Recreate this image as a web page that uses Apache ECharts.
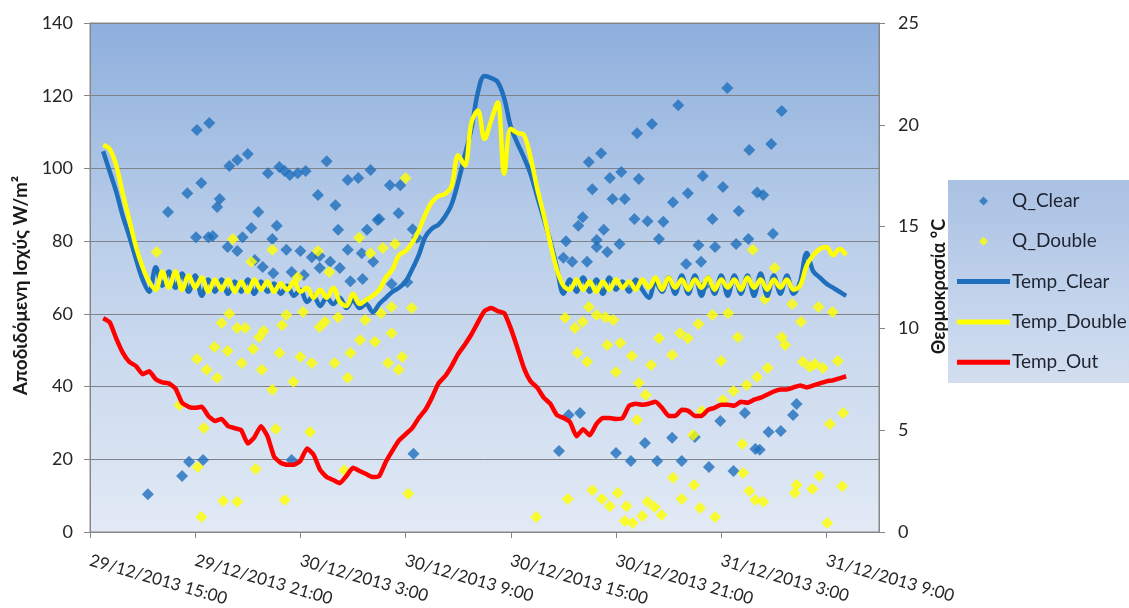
<!DOCTYPE html>
<html>
<head>
<meta charset="utf-8">
<script src="https://cdn.jsdelivr.net/npm/echarts@6/dist/echarts.min.js"></script>
<style>
  html, body { margin: 0; padding: 0; background: #ffffff; }
  #chart { width: 1129px; height: 608px; }
</style>
</head>
<body>
<div id="chart"></div>
<script>
// ---- x axis: hours since 29/12/2013 15:00 ----
const xTickHours = [0, 6, 12, 18, 24, 30, 36, 42];
const xTickLabels = ['29/12/2013 15:00', '29/12/2013 21:00', '30/12/2013 3:00', '30/12/2013 9:00',
                     '30/12/2013 15:00', '30/12/2013 21:00', '31/12/2013 3:00', '31/12/2013 9:00'];
const xMinHours = 0, xMaxHours = 45;

// ---- line series sampling (hours since 29/12/2013 15:00) ----
const lineStartHour = 0.75;
const lineStepHours = 0.375;

// Temp_Clear (°C)
const tempClear = [
  18.7, 17.7, 16.7, 15.5, 14.5, 13.4, 12.4, 11.8, 13.0, 12.1,
  12.8, 12.0, 12.7, 11.8, 12.6, 11.6, 12.4, 11.8, 12.4, 11.7,
  12.3, 11.8, 12.4, 11.7, 12.3, 11.8, 12.2, 11.7, 12.1, 11.6,
  11.9, 11.3, 11.6, 11.1, 11.5, 11.2, 11.5, 11.0, 11.4, 11.0,
  11.2, 10.8, 11.2, 11.5, 11.8, 12.0, 12.3, 12.9, 13.6, 14.5,
  14.9, 15.1, 15.5, 16.1, 17.2, 18.5, 19.8, 21.6, 22.4, 22.3,
  22.1, 21.3, 19.9, 19.1, 18.4, 17.6, 16.5, 15.4, 14.3, 13.0,
  11.7, 12.4, 11.8, 12.5, 11.8, 12.4, 11.7, 12.5, 11.9, 12.3,
  11.8, 12.4, 11.9, 11.5, 12.3, 11.8, 12.5, 11.7, 12.6, 11.7,
  12.6, 11.6, 12.5, 11.7, 12.6, 11.6, 12.6, 11.7, 12.6, 11.6,
  12.7, 11.6, 12.6, 11.7, 12.6, 11.7, 12.3, 13.7, 12.8, 12.5,
  12.2, 12.0, 11.8, 11.6
];

// Temp_Double (°C)
const tempDouble = [
  19.0, 18.8, 18.0, 16.6, 15.3, 14.0, 13.0, 12.3, 11.9, 12.8,
  12.0, 12.8, 11.9, 12.6, 12.0, 12.5, 11.8, 12.4, 11.9, 12.4,
  11.8, 12.3, 11.8, 12.4, 11.9, 12.3, 11.8, 12.2, 11.9, 12.3,
  11.8, 12.0, 11.5, 11.9, 11.5, 12.0, 11.3, 11.1, 11.7, 11.2,
  11.4, 11.6, 11.9, 12.5, 12.9, 13.6, 13.8, 14.2, 14.8, 15.6,
  16.2, 16.5, 16.6, 17.0, 18.5, 18.0, 20.1, 20.7, 19.3, 20.2,
  21.1, 17.6, 19.8, 19.6, 19.5, 18.4, 16.9, 15.6, 14.2, 12.9,
  12.1, 11.9, 12.4, 11.9, 12.3, 11.8, 12.3, 11.9, 12.4, 12.0,
  12.3, 11.9, 12.4, 12.0, 12.5, 11.9, 12.5, 12.0, 12.4, 11.9,
  12.4, 12.0, 12.5, 11.9, 12.4, 12.0, 12.4, 11.9, 12.5, 12.0,
  12.4, 11.9, 12.4, 12.0, 12.4, 11.9, 12.1, 13.1, 13.6, 13.9,
  14.0, 13.6, 13.9, 13.6
];

// Temp_Out (°C)
const tempOut = [
  10.5, 10.3, 9.5, 8.8, 8.35, 8.15, 7.75, 7.9, 7.5, 7.35,
  7.3, 7.05, 6.35, 6.15, 6.1, 6.15, 5.7, 5.45, 5.55, 5.2,
  5.1, 5.0, 4.35, 4.65, 5.2, 4.7, 3.7, 3.4, 3.3, 3.3,
  3.5, 4.1, 3.8, 3.05, 2.7, 2.55, 2.4, 2.75, 3.15, 3.0,
  2.85, 2.7, 2.75, 3.45, 4.0, 4.5, 4.8, 5.1, 5.6, 6.0,
  6.6, 7.3, 7.65, 8.15, 8.75, 9.2, 9.7, 10.3, 10.85, 11.0,
  10.85, 10.75, 10.0, 9.05, 8.05, 7.4, 7.1, 6.6, 6.3, 5.75,
  5.6, 5.4, 4.7, 5.05, 4.75, 5.3, 5.6, 5.6, 5.55, 5.6,
  6.2, 6.3, 6.25, 6.3, 6.4, 6.1, 5.7, 5.7, 6.0, 5.95,
  5.7, 5.7, 6.0, 6.1, 6.25, 6.25, 6.2, 6.4, 6.35, 6.5,
  6.6, 6.75, 6.9, 7.0, 7.0, 7.1, 7.2, 7.1, 7.2, 7.3,
  7.4, 7.45, 7.55, 7.65
];

// Q_Clear scatter: [hours since 29/12/2013 15:00, W/m²]
const qClear = [
  [3.3,10.4],[5.25,15.4],[5.65,19.3],[6.45,19.8],[11.5,19.8],
  [4.45,88.0],[5.55,93.2],[6.1,110.6],[6.8,112.5],[6.35,96.0],[6.05,81.1],[6.75,81.1],[7.0,81.4],
  [7.4,91.6],[7.25,89.4],[7.95,100.7],[8.4,102.3],[9.0,104.0],[8.7,81.1],[9.2,83.6],[9.6,88.0],
  [7.85,78.4],[8.4,77.3],[9.4,74.8],[10.15,98.7],[10.4,80.6],[10.65,84.2],[9.85,72.9],[10.45,71.2],
  [10.8,100.4],[11.1,99.3],[11.4,98.2],[11.85,98.7],[12.3,99.3],[11.2,77.6],[12.0,77.3],[12.65,75.6],
  [13.1,75.9],[13.0,92.7],[13.5,102.0],[14.0,89.9],[14.15,83.1],[13.7,74.3],[14.7,96.8],[15.3,97.4],
  [16.0,99.6],[15.8,83.1],[14.7,77.6],[15.5,76.7],[16.4,85.8],[14.25,72.6],[17.1,95.4],[17.7,95.4],
  [17.6,87.7],[16.5,86.1],[18.4,83.3],[18.65,80.9],[16.15,74.3],[13.1,72.6],[12.2,70.7],[14.85,69.0],
  [15.55,69.6],[18.1,68.7],[17.2,68.2],[11.5,71.5],[18.45,21.5],
  [28.45,101.8],[29.15,104.2],[31.2,109.7],[32.05,112.2],[33.55,117.4],[36.35,122.1],[37.6,105.1],
  [38.85,106.7],[39.45,115.8],[38.05,93.4],[38.4,92.7],[38.95,82.0],[28.65,94.3],[29.65,97.4],[30.3,99.0],
  [31.3,97.1],[29.8,91.6],[30.5,91.6],[34.95,97.9],[36.1,94.9],[34.1,93.2],[33.25,90.7],[31.05,86.1],
  [31.8,85.5],[32.7,85.3],[35.5,86.1],[37.0,88.3],[28.1,86.6],[27.85,84.2],[29.3,83.1],[27.15,80.0],
  [28.9,80.3],[28.9,78.4],[29.5,77.0],[30.2,79.2],[32.45,80.6],[34.7,78.9],[35.65,78.4],[36.85,79.2],
  [37.55,80.6],[34.0,73.7],[34.85,74.3],[27.0,75.4],[27.5,74.3],[28.35,74.3],[31.0,68.0],[35.0,67.5],
  [40.3,35.2],[40.1,32.2],[38.7,27.5],[39.4,27.8],[38.2,22.6],[27.3,32.2],[27.95,32.7],[26.75,22.3],
  [30.0,21.7],[30.85,19.5],[31.65,24.5],[32.35,19.5],[33.2,25.9],[33.75,19.5],[34.5,26.1],[35.3,17.9],
  [35.95,30.5],[36.7,16.8],[37.35,32.7],[37.95,22.8]
];

// Q_Double scatter: [hours since 29/12/2013 15:00, W/m²]
const qDouble = [
  [3.8,77.0],[8.15,80.6],[9.2,74.3],[10.4,77.6],[13.0,77.3],[13.65,71.5],[15.35,80.9],[16.0,76.7],
  [16.7,78.1],[17.4,79.2],[18.0,97.4],[11.85,70.1],
  [7.95,60.0],[7.5,57.5],[8.4,56.1],[8.85,56.1],[9.9,55.3],[9.65,53.6],[10.95,56.9],[11.2,59.7],
  [7.1,50.9],[7.85,49.8],[9.3,50.3],[10.8,49.2],[6.1,47.6],[6.65,44.6],[7.25,42.4],[8.65,46.5],
  [9.8,44.6],[10.4,39.1],[5.1,34.9],[6.15,17.9],[6.5,28.6],[6.35,4.1],[7.6,8.5],[8.4,8.3],
  [9.45,17.3],[10.6,28.3],[11.1,8.8],[11.6,41.3],[12.0,48.1],[12.15,60.5],[12.55,27.5],[12.65,46.5],
  [13.1,56.4],[13.4,57.8],[14.15,59.1],[13.95,46.5],[14.5,17.0],[14.7,42.4],[14.85,49.2],[15.4,52.8],
  [15.7,58.3],[16.25,52.3],[17.2,61.9],[18.35,61.6],[16.6,60.2],[17.2,54.7],[17.0,46.5],[17.8,48.1],
  [17.6,44.6],[18.15,10.5],[25.45,4.1],[27.25,9.1],
  [27.1,58.9],[27.65,56.1],[28.1,57.8],[28.45,61.9],[28.9,59.7],[29.4,59.1],[29.85,58.3],[27.8,49.2],
  [28.35,46.8],[29.5,51.4],[30.25,52.0],[30.9,48.4],[30.0,44.0],[31.3,41.0],[31.7,37.7],[32.0,45.9],
  [32.45,53.3],[33.2,48.7],[33.65,54.7],[34.1,53.3],[34.7,57.2],[35.5,59.7],[36.4,60.2],[36.95,53.6],
  [36.0,47.0],[36.7,38.8],[36.1,36.3],[37.45,40.4],[34.9,33.3],[34.4,26.7],[31.2,30.8],[37.2,24.2],
  [38.05,42.6],
  [28.65,11.5],[29.2,9.1],[29.65,7.1],[30.1,10.7],[30.6,7.1],[30.5,3.0],[30.95,2.5],[31.5,4.4],
  [31.8,8.3],[32.2,6.9],[32.6,4.7],[33.25,14.9],[33.75,9.1],[34.45,12.9],[34.8,6.6],[35.65,4.1],
  [37.25,16.2],[37.6,11.3],[37.95,8.8],
  [40.05,62.7],[41.55,61.9],[42.35,60.5],[40.55,57.8],[39.45,53.6],[39.65,51.4],[40.65,46.8],[41.05,45.4],
  [41.35,46.2],[41.8,45.1],[42.65,47.0],[38.65,45.1],[42.2,29.7],[42.95,32.7],[40.2,10.7],[40.3,12.9],
  [41.2,11.8],[41.6,15.4],[42.9,12.6],[42.05,2.5],[38.4,8.3],
  [37.8,77.6],[39.05,72.6],[38.5,64.1]
];

const seriesNames = ['Q_Clear', 'Q_Double', 'Temp_Clear', 'Temp_Double', 'Temp_Out'];

function toLine(values) {
  return values.map((v, i) => [lineStartHour + i * lineStepHours, v]);
}

const FONT = 'Lato';
const LINE_ICON = 'path://M0 0H53V5H0Z';
// small diamond centred in a 53x10 legend slot (end markers keep the box width)
const DIAMOND_ICON = 'path://M0 5L0.01 5ZM53 5L52.99 5ZM26.5 0.5L31 5L26.5 9.5L22 5Z';
const chart = echarts.init(document.getElementById('chart'), null, { renderer: 'canvas' });

const option = {
  backgroundColor: '#ffffff',
  animation: false,
  textStyle: { fontFamily: FONT },
  grid: {
    left: 90, right: 250, top: 23, bottom: 76,
    outerBoundsMode: 'none',
    containLabel: false,
    show: true,
    borderColor: '#8a8a8a',
    borderWidth: 1,
    backgroundColor: new echarts.graphic.LinearGradient(0, 0, 0, 1, [
      { offset: 0, color: '#8eafdd' },
      { offset: 0.45, color: '#bdd0ea' },
      { offset: 1, color: '#e2eaf5' }
    ])
  },
  graphic: [{
    type: 'rect',
    left: 948, top: 180, z: -1,
    shape: { width: 200, height: 203 },
    style: {
      fill: new echarts.graphic.LinearGradient(0, 0, 0, 1, [
        { offset: 0, color: '#aac1e4' },
        { offset: 1, color: '#d3dff0' }
      ])
    }
  }],
  legend: {
    orient: 'vertical',
    left: 957, top: 191,
    padding: 0,
    itemWidth: 53, itemHeight: 10, itemGap: 20.3,
    symbolKeepAspect: true,
    data: [
      { name: 'Q_Clear', icon: DIAMOND_ICON },
      { name: 'Q_Double', icon: DIAMOND_ICON },
      { name: 'Temp_Clear', icon: LINE_ICON },
      { name: 'Temp_Double', icon: LINE_ICON },
      { name: 'Temp_Out', icon: LINE_ICON }
    ],
    textStyle: { fontFamily: FONT, fontSize: 19, color: '#1e2330', lineHeight: 20, padding: [0, 0, 0, -3] }
  },
  xAxis: {
    type: 'value',
    min: xMinHours, max: xMaxHours, interval: 6,
    axisLine: { show: true, lineStyle: { color: '#868686', width: 1 } },
    axisTick: { show: true, length: 6, lineStyle: { color: '#868686' }, customValues: xTickHours },
    splitLine: { show: false },
    axisLabel: {
      customValues: xTickHours,
      rotate: -16,
      margin: 28,
      fontFamily: FONT, fontSize: 17, color: '#262626',
      formatter: (v) => { const k = xTickHours.indexOf(v); return k >= 0 ? xTickLabels[k] : ''; }
    }
  },
  yAxis: [{
    type: 'value', min: 0, max: 140, interval: 20,
    position: 'left',
    name: 'Αποδιδόμενη Ισχύς W/m²',
    nameLocation: 'middle', nameGap: 52,
    nameTextStyle: { fontFamily: FONT, fontSize: 19, fontWeight: 'bold', color: '#1a1a1a', padding: [0, 16, 0, 0] },
    axisLine: { show: true, lineStyle: { color: '#868686' } },
    axisTick: { show: true, length: 6, lineStyle: { color: '#868686' } },
    axisLabel: { margin: 17, fontFamily: FONT, fontSize: 18, color: '#262626' },
    splitLine: { show: true, lineStyle: { color: '#7f8389', width: 1 } }
  }, {
    type: 'value', min: 0, max: 25, interval: 5,
    position: 'right',
    name: 'Θερμοκρασία °C',
    nameLocation: 'middle', nameGap: 44,
    nameTextStyle: { fontFamily: FONT, fontSize: 18, fontWeight: 'bold', color: '#1a1a1a', padding: [0, 18, 0, 0] },
    axisLine: { show: true, lineStyle: { color: '#868686' } },
    axisTick: { show: true, length: 6, lineStyle: { color: '#868686' } },
    axisLabel: { margin: 19, fontFamily: FONT, fontSize: 18, color: '#262626' },
    splitLine: { show: false }
  }],
  series: [{
    name: 'Q_Clear', type: 'scatter', yAxisIndex: 0,
    symbol: 'diamond', symbolSize: 12,
    itemStyle: { color: '#1f6fbd' },
    data: qClear, z: 2
  }, {
    name: 'Q_Double', type: 'scatter', yAxisIndex: 0,
    symbol: 'diamond', symbolSize: 12,
    itemStyle: { color: '#ffff00' },
    data: qDouble, z: 3
  }, {
    name: 'Temp_Clear', type: 'line', yAxisIndex: 1,
    symbol: 'none', smooth: 0.35,
    lineStyle: { color: '#1f6fbd', width: 4.5 },
    itemStyle: { color: '#1f6fbd' },
    data: toLine(tempClear), z: 4
  }, {
    name: 'Temp_Double', type: 'line', yAxisIndex: 1,
    symbol: 'none', smooth: 0.35,
    lineStyle: { color: '#ffff00', width: 4.5 },
    itemStyle: { color: '#ffff00' },
    data: toLine(tempDouble), z: 5
  }, {
    name: 'Temp_Out', type: 'line', yAxisIndex: 1,
    symbol: 'none', smooth: 0.15,
    lineStyle: { color: '#ff0000', width: 4.5 },
    itemStyle: { color: '#ff0000' },
    data: toLine(tempOut), z: 6
  }]
};

chart.setOption(option);
</script>
</body>
</html>
